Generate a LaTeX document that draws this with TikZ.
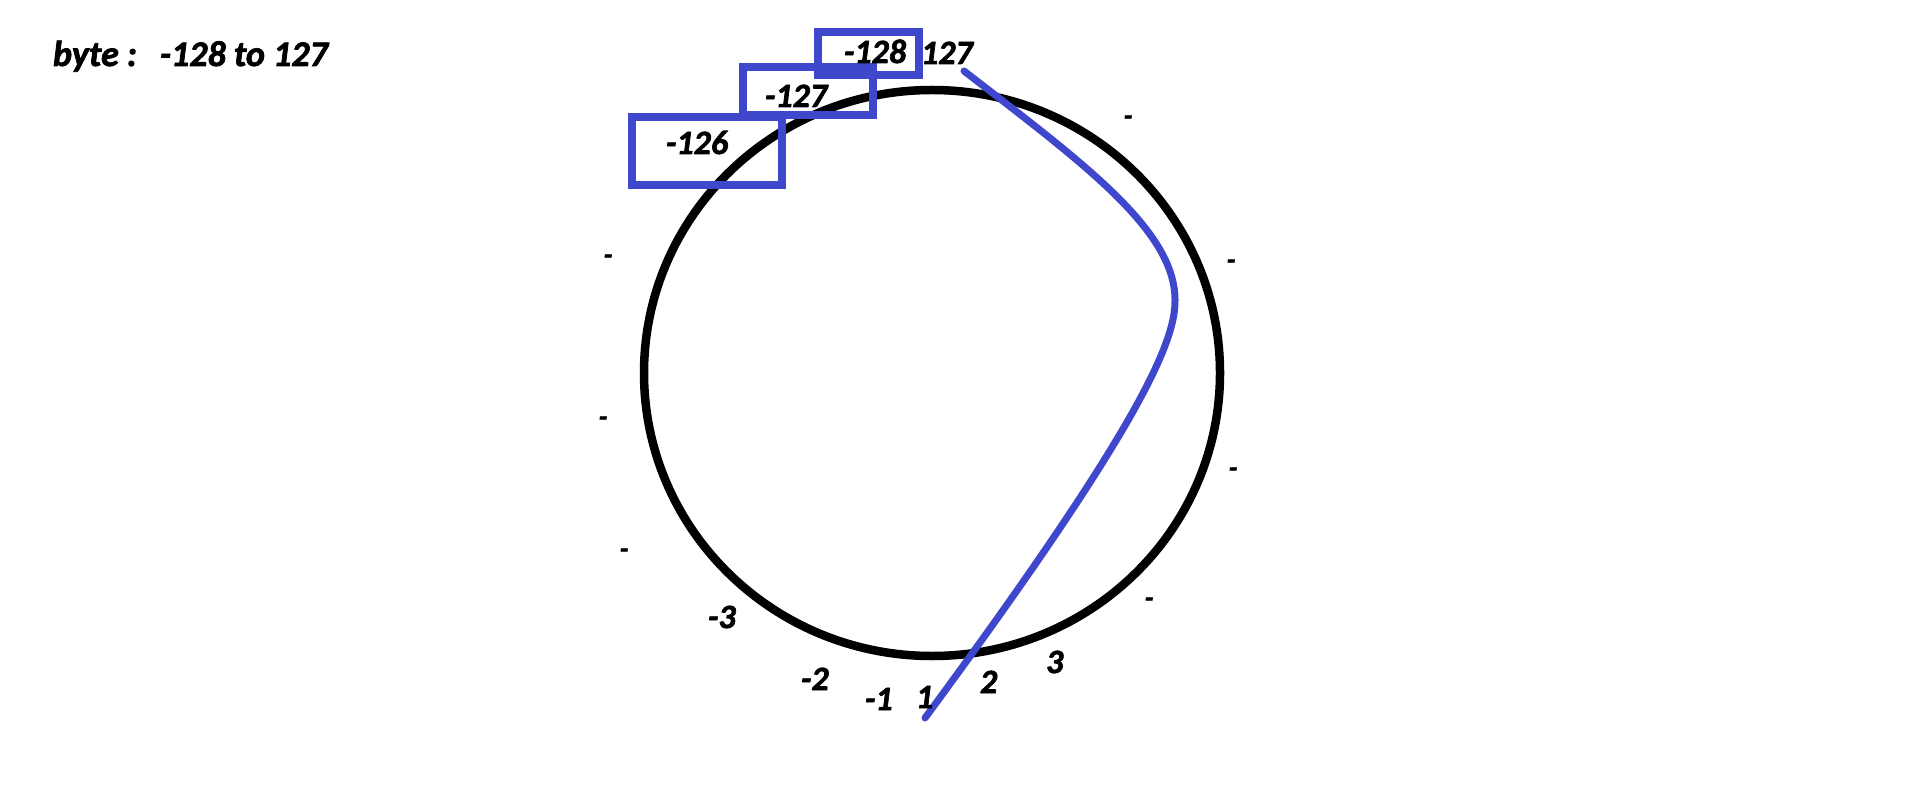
\documentclass[tikz,border=0pt]{standalone}
\usepackage{fontspec}
\setmainfont{Carlito}[BoldItalicFeatures={FakeBold=2}]
\usetikzlibrary{shapes.geometric}
\definecolor{indigo}{RGB}{63,72,204}
\tikzset{
  lbl/.style={inner sep=0pt, outer sep=0pt, anchor=base west, font=\fontsize{34}{36}\selectfont\bfseries\itshape},
  hdr/.style={lbl, font=\fontsize{36}{38}\selectfont\bfseries\itshape},
  tick/.style={inner sep=0pt, outer sep=0pt, anchor=base, font=\fontsize{28}{30}\selectfont\bfseries\itshape},
  ring/.style={draw=black, line width=8.5pt, ellipse, inner sep=0pt},
  valbox/.style={draw=indigo, line width=7.5pt, rectangle, inner sep=0pt},
  wrap/.style={draw=indigo, line width=7pt, line cap=round, line join=round}
}
\begin{document}
\begin{tikzpicture}[x=1pt,y=-1pt]
\useasboundingbox (0,0) rectangle (1914,791);
% circle
\node[ring, minimum width=576pt, minimum height=566pt] (ring) at (932,373) {};
% blue wrap-around curve
\coordinate (wstart) at (964,71);
\coordinate (wend) at (925,718);
\draw[wrap] (wstart) .. controls (1083,163) and (1175,230) .. (1175,300)
  .. controls (1176,345) and (1130,440) .. (wend);
% boxes
\node[valbox, minimum width=101pt, minimum height=43pt] (b128) at (868.5,53.5) {};
\node[valbox, minimum width=130pt, minimum height=48pt] (b127) at (808,91) {};
\node[valbox, minimum width=150pt, minimum height=68pt] (b126) at (707,151) {};
% header
\node[hdr] (title) at (53,66) {byte :};
\node[hdr] (range) at (160,66) {-128 to 127};
% box labels
\node[lbl] (t128) at (844,63) {-128};
\node[lbl] (t127top) at (921,64) {127};
\node[lbl] (t127) at (765,107) {-127};
\node[lbl] (t126) at (666,154) {-126};
% bottom labels
\node[lbl] (m3) at (708,628) {-3};
\node[lbl] (m2) at (801,690) {-2};
\node[lbl] (m1) at (865,710) {-1};
\node[lbl] (p1) at (916,708) {1};
\node[lbl] (p2) at (980,693) {2};
\node[lbl] (p3) at (1046,673) {3};
% dashes
\node[tick] (d1) at (608,264) {-};
\node[tick] (d2) at (603,426) {-};
\node[tick] (d3) at (624,558) {-};
\node[tick] (d4) at (1128,125) {-};
\node[tick] (d5) at (1231,269) {-};
\node[tick] (d6) at (1233,477) {-};
\node[tick] (d7) at (1149,607) {-};
\end{tikzpicture}
\end{document}
